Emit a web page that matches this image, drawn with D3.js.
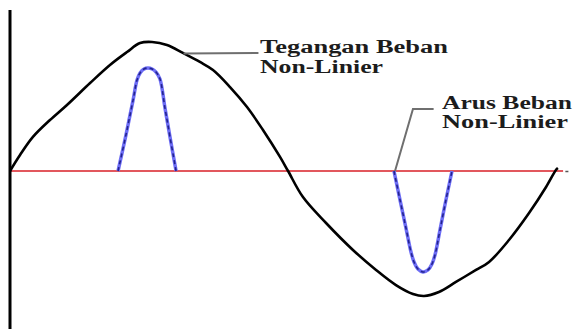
<!DOCTYPE html>
<html>
<head>
<meta charset="utf-8">
<script src="https://cdn.jsdelivr.net/npm/d3@7"></script>
<style>
	html, body { margin: 0; padding: 0; background: #fff; }
	svg { display: block; }
	.lbl { font-family: "Liberation Serif", "Times New Roman", serif; font-weight: bold; font-size: 18px; fill: #1c1c1c; }
</style>
</head>
<body>
<svg width="576" height="329"></svg>
<script>
// voltage wave: phase in degrees, value relative to peak
let voltDeg = [0, 6.6, 15.1, 26.3, 37.5, 52.7, 65.8, 77, 85.6, 93.5, 103.3, 113.8, 125, 133.6, 144.8, 156, 166.5, 177.7, 183,
	192.8, 208, 225.7, 240.9, 254, 265.2, 272.5, 282.3, 293.5, 306.7, 315.3, 328.4, 341.6, 352.8, 359.3, 360.6];
let voltVal = [0, 0.124, 0.264, 0.395, 0.512, 0.682, 0.822, 0.922, 0.992, 1.0, 0.977, 0.915, 0.845, 0.783, 0.651, 0.496, 0.318, 0.109, 0,
	-0.202, -0.403, -0.612, -0.767, -0.884, -0.953, -0.969, -0.938, -0.86, -0.767, -0.705, -0.535, -0.326, -0.124, 0.008, 0.023];

// current pulses (positive and negative half)
let pulse1Deg = [71.1, 76.3, 81, 83.6, 85.6, 88.2, 90.8, 93.5, 96.1, 98.7, 102, 105.3, 109.3];
let pulse1Val = [0, 0.279, 0.55, 0.705, 0.76, 0.791, 0.798, 0.791, 0.767, 0.713, 0.488, 0.264, 0];
let pulse2Deg = [252.7, 256.7, 260.6, 263.9, 265.9, 268.5, 271.8, 275.1, 277.7, 279.7, 283, 286.9, 290.9];
let pulse2Val = [0, -0.225, -0.442, -0.628, -0.705, -0.76, -0.783, -0.767, -0.721, -0.651, -0.457, -0.225, 0];

let labelVolt = ["Tegangan Beban", "Non-Linier"];
let labelCurr = ["Arus Beban", "Non-Linier"];

let svg = d3.select("svg"),
	width = +svg.attr("width"),
	height = +svg.attr("height");

let x = d3.scaleLinear().domain([0, 360]).range([10, 557]);
let y = d3.scaleLinear().domain([-1, 1]).range([300, 42]);

let zip = (a, b) => a.map((d, i) => [d, b[i]]);

let line = d3.line()
	.x(d => x(d[0]))
	.y(d => y(d[1]))
	.curve(d3.curveCatmullRom);

// zero line
svg.append("line")
	.attr("x1", x(0)).attr("x2", x(364))
	.attr("y1", y(0)).attr("y2", y(0))
	.attr("stroke", "#e2575d")
	.attr("stroke-width", 2);
svg.append("line")
	.attr("x1", x(365.5)).attr("x2", x(367.5))
	.attr("y1", y(0) + 0.5).attr("y2", y(0) + 0.5)
	.attr("stroke", "#555")
	.attr("stroke-width", 1.5);

// vertical axis
svg.append("line")
	.attr("x1", x(0)).attr("x2", x(0))
	.attr("y1", 10).attr("y2", height)
	.attr("stroke", "#000")
	.attr("stroke-width", 3);

// voltage
svg.append("path")
	.datum(zip(voltDeg, voltVal))
	.attr("d", line)
	.attr("fill", "none")
	.attr("stroke", "#000")
	.attr("stroke-width", 2.6)
	.attr("stroke-linejoin", "round");

// current pulses: light blue body with dark dashes on top
[zip(pulse1Deg, pulse1Val), zip(pulse2Deg, pulse2Val)].forEach(p => {
	svg.append("path")
		.datum(p)
		.attr("d", line)
		.attr("fill", "none")
		.attr("stroke", "#6d6df5")
		.attr("stroke-width", 3.5)
		.attr("stroke-linejoin", "round");
	svg.append("path")
		.datum(p)
		.attr("d", line)
		.attr("fill", "none")
		.attr("stroke", "#23238f")
		.attr("stroke-width", 1.6)
		.attr("stroke-dasharray", "4,3");
});

// leader lines
let leader = d3.line().x(d => x(d[0])).y(d => y(d[1]));
svg.append("path")
	.datum([[114.2, 0.91], [163.5, 0.915]])
	.attr("d", leader)
	.attr("fill", "none")
	.attr("stroke", "#6f6f6f")
	.attr("stroke-width", 2);
svg.append("path")
	.datum([[253.4, 0], [265.2, 0.48], [278.8, 0.48]])
	.attr("d", leader)
	.attr("fill", "none")
	.attr("stroke", "#6f6f6f")
	.attr("stroke-width", 2);

function label(lines, px, py, lens) {
	let g = svg.append("g").attr("class", "lbl");
	lines.forEach((t, i) => {
		g.append("text")
			.attr("x", px)
			.attr("y", py + i * 19.5)
			.attr("textLength", lens[i])
			.attr("lengthAdjust", "spacingAndGlyphs")
			.text(t);
	});
}

label(labelVolt, 260, 53, [188, 123]);
label(labelCurr, 442, 108.5, [130, 126]);
</script>
</body>
</html>
